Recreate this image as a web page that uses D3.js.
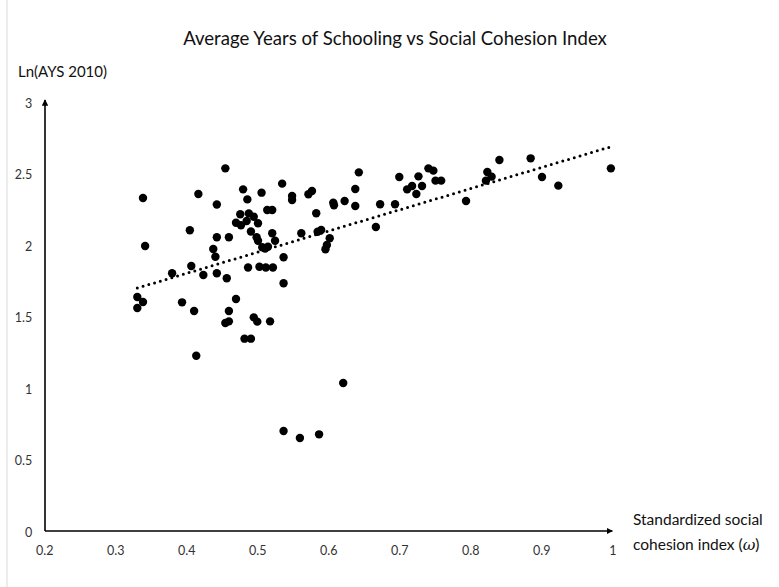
<!DOCTYPE html>
<html>
<head>
<meta charset="utf-8">
<script src="https://cdn.jsdelivr.net/npm/d3@7"></script>
<style>
  body { margin: 0; background: #fff; }
  svg text { font-family: Lato, "Open Sans", sans-serif; }
</style>
</head>
<body>
<div id="chart"></div>
<script>
// data
const cohesion = [0.339, 0.342, 0.331, 0.339, 0.331, 0.455, 0.417, 0.443, 0.480, 0.506,
  0.486, 0.535, 0.514, 0.521, 0.476, 0.488, 0.495, 0.470, 0.477, 0.485,
  0.501, 0.405, 0.491, 0.521, 0.499, 0.501, 0.443, 0.460, 0.525, 0.515,
  0.507, 0.511, 0.438, 0.441, 0.407, 0.487, 0.503, 0.512, 0.522, 0.380,
  0.424, 0.443, 0.457, 0.537, 0.537, 0.394, 0.411, 0.470, 0.460, 0.455,
  0.460, 0.495, 0.500, 0.518, 0.482, 0.491, 0.414, 0.621, 0.537, 0.560,
  0.587, 0.549, 0.549, 0.572, 0.577, 0.643, 0.638, 0.638, 0.623, 0.607,
  0.608, 0.583, 0.562, 0.585, 0.590, 0.602, 0.598, 0.596, 0.673, 0.667,
  0.694, 0.700, 0.727, 0.711, 0.718, 0.724, 0.732, 0.741, 0.748, 0.751,
  0.759, 0.794, 0.824, 0.830, 0.822, 0.841, 0.885, 0.901, 0.924, 0.998];
const lnAys = [2.336, 2.000, 1.643, 1.608, 1.566, 2.543, 2.364, 2.290, 2.396, 2.373,
  2.326, 2.436, 2.252, 2.252, 2.222, 2.228, 2.205, 2.163, 2.145, 2.175,
  2.159, 2.110, 2.101, 2.089, 2.061, 2.037, 2.061, 2.061, 2.037, 1.995,
  1.991, 1.983, 1.979, 1.925, 1.860, 1.850, 1.855, 1.850, 1.850, 1.809,
  1.797, 1.809, 1.774, 1.921, 1.739, 1.606, 1.545, 1.629, 1.545, 1.462,
  1.473, 1.501, 1.471, 1.473, 1.352, 1.352, 1.233, 1.042, 0.706, 0.657,
  0.683, 2.350, 2.322, 2.362, 2.385, 2.515, 2.399, 2.280, 2.315, 2.303,
  2.285, 2.229, 2.089, 2.100, 2.112, 2.054, 2.007, 1.977, 2.292, 2.133,
  2.292, 2.483, 2.487, 2.396, 2.420, 2.364, 2.420, 2.543, 2.527, 2.457,
  2.457, 2.315, 2.517, 2.485, 2.457, 2.601, 2.613, 2.483, 2.422, 2.543];
const trendX = [0.331, 0.998];
const trendY = [1.706, 2.694];
const xTicks = [0.2, 0.3, 0.4, 0.5, 0.6, 0.7, 0.8, 0.9, 1];
const yTicks = [0, 0.5, 1, 1.5, 2, 2.5, 3];

const width = 779, height = 587;

const svg = d3.select("#chart").append("svg")
    .attr("width", width)
    .attr("height", height);

// faint frame edge on the left
svg.append("line")
    .attr("x1", 7).attr("x2", 7)
    .attr("y1", 0).attr("y2", height)
    .attr("stroke", "#d9d9d9");

const x = d3.scaleLinear().domain([0.2, 1]).range([44.3, 612.3]);
const y = d3.scaleLinear().domain([0, 3]).range([532, 103]);

// arrow heads
svg.append("defs").append("marker")
    .attr("id", "arrow")
    .attr("viewBox", "0 0 10 10")
    .attr("refX", 9).attr("refY", 5)
    .attr("markerWidth", 4).attr("markerHeight", 4)
    .attr("orient", "auto")
  .append("path")
    .attr("d", "M0,0 L10,5 L0,10 z")
    .attr("fill", "#000");

// title
svg.append("text")
    .attr("x", 395).attr("y", 45)
    .attr("text-anchor", "middle")
    .attr("font-size", 18.6)
    .attr("fill", "#111")
    .text("Average Years of Schooling vs Social Cohesion Index");

// axes labels (Excel style, no tick marks)
const xAxis = d3.axisBottom(x).tickValues(xTicks).tickSize(0).tickPadding(14)
    .tickFormat(d => d3.format("")(d));
const yAxis = d3.axisLeft(y).tickValues(yTicks).tickSize(0).tickPadding(12)
    .tickFormat(d => d3.format("")(d));

svg.append("g")
    .attr("transform", `translate(0,${y(0)})`)
    .call(xAxis)
    .call(g => g.select(".domain").remove())
    .call(g => g.selectAll("text").attr("font-size", 12.5).attr("fill", "#333")
        .style("font-family", "Lato, sans-serif"));

svg.append("g")
    .attr("transform", `translate(${x(0.2)},0)`)
    .call(yAxis)
    .call(g => g.select(".domain").remove())
    .call(g => g.selectAll("text").attr("font-size", 12.5).attr("fill", "#333")
        .style("font-family", "Lato, sans-serif"));

// axis lines with arrows
svg.append("line")
    .attr("x1", x(0.2) + 0.7).attr("y1", y(0) - 1)
    .attr("x2", x(1)).attr("y2", y(0) - 1)
    .attr("stroke", "#000").attr("stroke-width", 1.6)
    .attr("marker-end", "url(#arrow)");

svg.append("line")
    .attr("x1", x(0.2) + 0.7).attr("y1", y(0) - 1)
    .attr("x2", x(0.2) + 0.7).attr("y2", y(3) - 3)
    .attr("stroke", "#000").attr("stroke-width", 1.6)
    .attr("marker-end", "url(#arrow)");

// axis titles
svg.append("text")
    .attr("x", 18).attr("y", 77)
    .attr("font-size", 15)
    .attr("fill", "#111")
    .text("Ln(AYS 2010)");

const xt = svg.append("text")
    .attr("x", 633).attr("y", 525)
    .attr("font-size", 15.5)
    .attr("fill", "#111");
xt.append("tspan").text("Standardized social");
const l2 = xt.append("tspan").attr("x", 633).attr("dy", 25);
l2.append("tspan").text("cohesion index (");
l2.append("tspan").attr("font-style", "italic")
    .style("font-family", "'DejaVu Serif', serif").text("ω");
l2.append("tspan").text(")");

// trend line (dotted)
svg.append("path")
    .datum(d3.range(trendX.length))
    .attr("fill", "none")
    .attr("stroke", "#000")
    .attr("stroke-width", 3)
    .attr("stroke-linecap", "round")
    .attr("stroke-dasharray", "0,6")
    .attr("d", d3.line().x(i => x(trendX[i])).y(i => y(trendY[i])));

// points
svg.append("g")
    .selectAll("circle")
    .data(d3.range(cohesion.length))
    .join("circle")
    .attr("cx", i => x(cohesion[i]))
    .attr("cy", i => y(lnAys[i]))
    .attr("r", 4.2)
    .attr("fill", "#000");
</script>
</body>
</html>
